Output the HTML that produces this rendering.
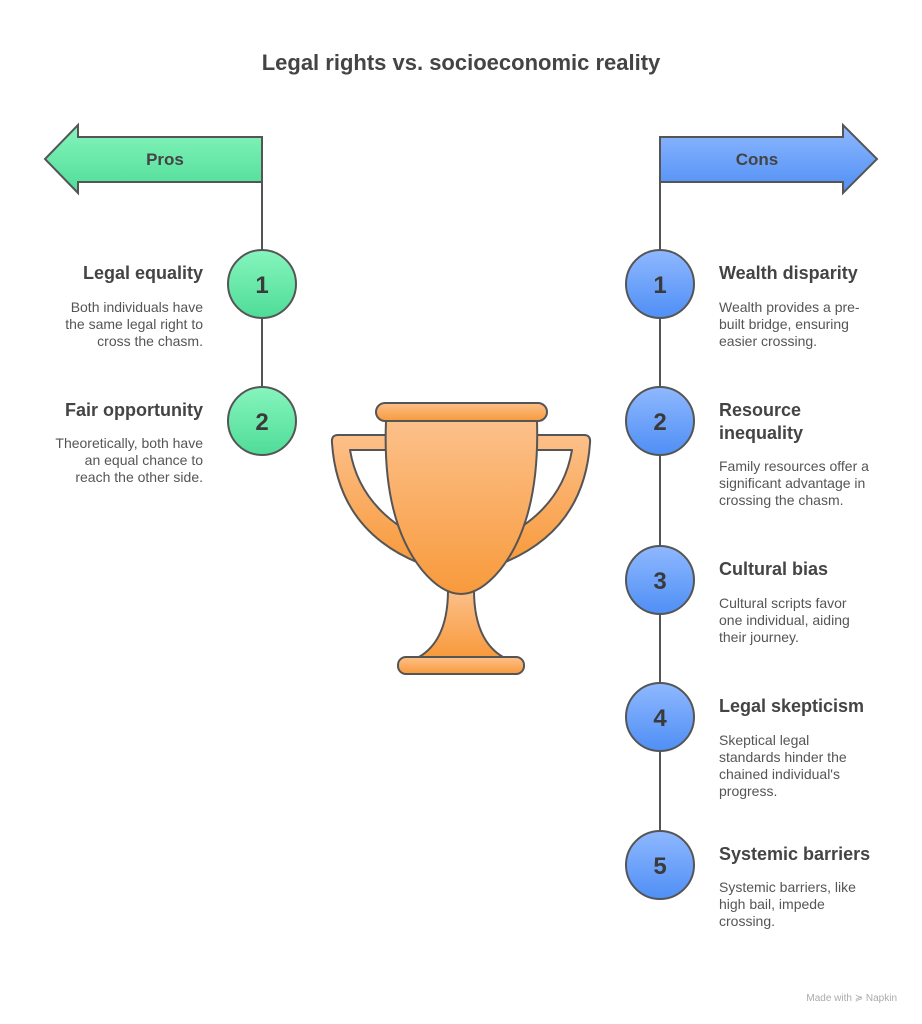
<!DOCTYPE html>
<html><head><meta charset="utf-8"><style>
html,body{margin:0;padding:0;background:#fff;}
svg{display:block;font-family:"Liberation Sans",Arial,sans-serif;}
.t{font-size:18px;font-weight:bold;fill:#444;}
.d{font-size:14px;fill:#555;}
.n{font-size:24px;font-weight:bold;fill:#3a3a3a;}
</style></head><body>
<svg width="922" height="1024" viewBox="0 0 922 1024">
<defs>
<linearGradient id="g" x1="0" y1="0" x2="0" y2="1"><stop offset="0" stop-color="#86f5bd"/><stop offset="1" stop-color="#4fdc98"/></linearGradient>
<linearGradient id="b" x1="0" y1="0" x2="0" y2="1"><stop offset="0" stop-color="#8fb8ff"/><stop offset="1" stop-color="#4f8ff5"/></linearGradient>
<linearGradient id="o" x1="0" y1="0" x2="0" y2="1"><stop offset="0" stop-color="#fcc08a"/><stop offset="1" stop-color="#f89a3c"/></linearGradient>
</defs>
<rect width="922" height="1024" fill="#fff"/>
<text x="461" y="70" text-anchor="middle" style="font-size:22px;font-weight:bold;fill:#444">Legal rights vs. socioeconomic reality</text>

<line x1="262" y1="182" x2="262" y2="421" stroke="#555" stroke-width="2"/>
<line x1="660" y1="182" x2="660" y2="865" stroke="#555" stroke-width="2"/>

<polygon points="262,137 78,137 78,125 45,159 78,193 78,182 262,182" fill="url(#g)" stroke="#555" stroke-width="2"/>
<text x="165" y="165" text-anchor="middle" class="t" style="font-size:17px">Pros</text>
<polygon points="660,137 843,137 843,125 877,159 843,193 843,182 660,182" fill="url(#b)" stroke="#555" stroke-width="2"/>
<text x="757" y="165" text-anchor="middle" class="t" style="font-size:17px">Cons</text>

<g stroke="#555" stroke-width="2">
<circle cx="262" cy="284" r="34" fill="url(#g)"/>
<circle cx="262" cy="421" r="34" fill="url(#g)"/>
<circle cx="660" cy="284" r="34" fill="url(#b)"/>
<circle cx="660" cy="421" r="34" fill="url(#b)"/>
<circle cx="660" cy="580" r="34" fill="url(#b)"/>
<circle cx="660" cy="717" r="34" fill="url(#b)"/>
<circle cx="660" cy="865" r="34" fill="url(#b)"/>
</g>
<g text-anchor="middle">
<text x="262" y="293" class="n">1</text><text x="262" y="430" class="n">2</text>
<text x="660" y="293" class="n">1</text><text x="660" y="430" class="n">2</text>
<text x="660" y="589" class="n">3</text><text x="660" y="726" class="n">4</text>
<text x="660" y="874" class="n">5</text>
</g>

<g text-anchor="end">
<text x="203" y="279" class="t">Legal equality</text>
<text x="203" y="312" class="d">Both individuals have</text>
<text x="203" y="329" class="d">the same legal right to</text>
<text x="203" y="346" class="d">cross the chasm.</text>
<text x="203" y="416" class="t">Fair opportunity</text>
<text x="203" y="448" class="d">Theoretically, both have</text>
<text x="203" y="465" class="d">an equal chance to</text>
<text x="203" y="482" class="d">reach the other side.</text>
</g>
<g>
<text x="719" y="279" class="t">Wealth disparity</text>
<text x="719" y="312" class="d">Wealth provides a pre-</text>
<text x="719" y="329" class="d">built bridge, ensuring</text>
<text x="719" y="346" class="d">easier crossing.</text>
<text x="719" y="416" class="t">Resource</text>
<text x="719" y="439" class="t">inequality</text>
<text x="719" y="471" class="d">Family resources offer a</text>
<text x="719" y="488" class="d">significant advantage in</text>
<text x="719" y="505" class="d">crossing the chasm.</text>
<text x="719" y="575" class="t">Cultural bias</text>
<text x="719" y="608" class="d">Cultural scripts favor</text>
<text x="719" y="625" class="d">one individual, aiding</text>
<text x="719" y="642" class="d">their journey.</text>
<text x="719" y="712" class="t">Legal skepticism</text>
<text x="719" y="745" class="d">Skeptical legal</text>
<text x="719" y="762" class="d">standards hinder the</text>
<text x="719" y="779" class="d">chained individual's</text>
<text x="719" y="796" class="d">progress.</text>
<text x="719" y="860" class="t">Systemic barriers</text>
<text x="719" y="892" class="d">Systemic barriers, like</text>
<text x="719" y="909" class="d">high bail, impede</text>
<text x="719" y="926" class="d">crossing.</text>
</g>

<g stroke="#555" stroke-width="2" fill="url(#o)" stroke-linejoin="round">
<path d="M390,435 L338,435 Q331,435 332,443 Q338,530 419,563 L424,540 Q360,510 350,450 L390,450 Z"/>
<path d="M532,435 L584,435 Q591,435 590,443 Q584,530 503,563 L498,540 Q562,510 572,450 L532,450 Z"/>
<path d="M448,590 L474,590 Q474,640 503,657 L419,657 Q448,640 448,590 Z"/>
<rect x="398" y="657" width="126" height="17" rx="8"/>
<path d="M386,421 L537,421 Q540,520 500,570 Q480,594 461,594 Q442,594 422,570 Q382,520 386,421 Z"/>
<rect x="376" y="403" width="171" height="18" rx="9"/>
</g>

<text x="897" y="1001" text-anchor="end" style="font-size:10px;fill:#aaa">Made with ≽ Napkin</text>
</svg>
</body></html>
